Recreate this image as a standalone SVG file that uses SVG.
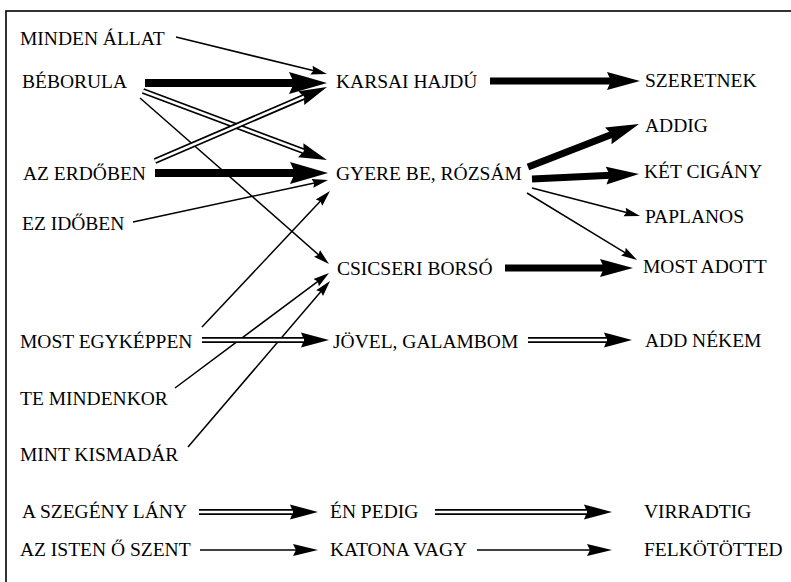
<svg xmlns="http://www.w3.org/2000/svg" width="791" height="582" viewBox="0 0 791 582">
<style>
.lbl{font-family:"Liberation Serif","Times New Roman",serif;font-size:19.5px;fill:#000}
.thin{stroke:#000;stroke-width:1.5;fill:none}
.thickL{stroke:#000;stroke-width:8;fill:none}
.thickR{stroke:#000;stroke-width:7;fill:none}
.dblB{stroke:#000;stroke-width:6;fill:none}
.dblW{stroke:#fff;stroke-width:2.6;fill:none}
</style>
<defs>
<marker id="mThin" markerUnits="userSpaceOnUse" markerWidth="18" markerHeight="12" viewBox="0 -6 18 12" refX="8" refY="0" orient="auto"><path d="M0,-4.5 L16,0 L0,4.5 L2,0 Z" fill="#000"/></marker>
<marker id="mThinB" markerUnits="userSpaceOnUse" markerWidth="27" markerHeight="14" viewBox="0 -7 27 14" refX="13" refY="0" orient="auto"><path d="M0,-6 L25,0 L0,6 L3,0 Z" fill="#000"/></marker>
<marker id="mThickL" markerUnits="userSpaceOnUse" markerWidth="40" markerHeight="26" viewBox="0 -13 40 26" refX="6" refY="0" orient="auto"><path d="M0,-11 L38,0 L0,11 L5,0 Z" fill="#000"/></marker>
<marker id="mThickR" markerUnits="userSpaceOnUse" markerWidth="35" markerHeight="22" viewBox="0 -11 35 22" refX="5" refY="0" orient="auto"><path d="M0,-9 L33,0 L0,9 L4,0 Z" fill="#000"/></marker>
<marker id="mDbl" markerUnits="userSpaceOnUse" markerWidth="31" markerHeight="18" viewBox="0 -9 31 18" refX="6" refY="0" orient="auto"><path d="M0,-7.5 L28,0 L0,7.5 L3,0 Z" fill="#000"/></marker>
</defs>
<rect x="6" y="11" width="800" height="600" fill="none" stroke="#000" stroke-width="1.6"/>
<g id="connectors">
<path class="thin" d="M176,37 L319.2,72.1" marker-end="url(#mThin)"/>
<path class="thickL" d="M145,83 L295,83" marker-end="url(#mThickL)"/>
<path class="dblB" d="M143,91 L306.4,152.3" marker-end="url(#mDbl)"/>
<path class="dblW" d="M143,91 L303.6,151.2"/>
<path class="thin" d="M140,98 L323,258.7" marker-end="url(#mThin)"/>
<path class="dblB" d="M155,161 L306.8,95.7" marker-end="url(#mDbl)"/>
<path class="dblW" d="M155,161 L304,96.9"/>
<path class="thickL" d="M155,173 L296,173" marker-end="url(#mThickL)"/>
<path class="thin" d="M133,222 L320.2,181.7" marker-end="url(#mThin)"/>
<path class="thin" d="M202,327 L324.5,196.8" marker-end="url(#mThin)"/>
<path class="thin" d="M175,388 L322.6,277.8" marker-end="url(#mThin)"/>
<path class="thin" d="M188,447 L324.8,287.1" marker-end="url(#mThin)"/>
<path class="dblB" d="M202,340 L307,340" marker-end="url(#mDbl)"/>
<path class="dblW" d="M202,340 L304,340"/>
<path class="thickR" d="M490,81 L612,81" marker-end="url(#mThickR)"/>
<path class="thickR" d="M528,167 L612.9,134.1" marker-end="url(#mThickR)"/>
<path class="thickR" d="M532,179 L611,175.3" marker-end="url(#mThickR)"/>
<path class="thin" d="M532,188 L632.3,214" marker-end="url(#mThin)"/>
<path class="thin" d="M527,193 L630.2,255.8" marker-end="url(#mThin)"/>
<path class="thickR" d="M505,268 L605,268" marker-end="url(#mThickR)"/>
<path class="dblB" d="M528,340 L610,340" marker-end="url(#mDbl)"/>
<path class="dblW" d="M528,340 L607,340"/>
<path class="dblB" d="M199,512 L296,512" marker-end="url(#mDbl)"/>
<path class="dblW" d="M199,512 L293,512"/>
<path class="dblB" d="M435,512 L590,512" marker-end="url(#mDbl)"/>
<path class="dblW" d="M435,512 L587,512"/>
<path class="thin" d="M200,550 L306,550" marker-end="url(#mThinB)"/>
<path class="thin" d="M477,550 L600,550" marker-end="url(#mThinB)"/>
</g>
<g id="n-minden-allat"><text class="lbl" x="20" y="45">MINDEN ÁLLAT</text></g>
<g id="n-beborula"><text class="lbl" x="22" y="88">BÉBORULA</text></g>
<g id="n-az-erdoben"><text class="lbl" x="23" y="180">AZ ERDŐBEN</text></g>
<g id="n-ez-idoben"><text class="lbl" x="22" y="230">EZ IDŐBEN</text></g>
<g id="n-most-egykeppen"><text class="lbl" x="20" y="348">MOST EGYKÉPPEN</text></g>
<g id="n-te-mindenkor"><text class="lbl" x="20" y="405">TE MINDENKOR</text></g>
<g id="n-mint-kismadar"><text class="lbl" x="20" y="461">MINT KISMADÁR</text></g>
<g id="n-a-szegeny-lany"><text class="lbl" x="22" y="518">A SZEGÉNY LÁNY</text></g>
<g id="n-az-isten"><text class="lbl" x="20" y="556">AZ ISTEN Ő SZENT</text></g>
<g id="n-karsai-hajdu"><text class="lbl" x="336" y="88">KARSAI HAJDÚ</text></g>
<g id="n-gyere-be"><text class="lbl" x="336" y="180">GYERE BE, RÓZSÁM</text></g>
<g id="n-csicseri-borso"><text class="lbl" x="337" y="275">CSICSERI BORSÓ</text></g>
<g id="n-jovel"><text class="lbl" x="333" y="348">JÖVEL, GALAMBOM</text></g>
<g id="n-en-pedig"><text class="lbl" x="330" y="518">ÉN PEDIG</text></g>
<g id="n-katona-vagy"><text class="lbl" x="330" y="556">KATONA VAGY</text></g>
<g id="n-szeretnek"><text class="lbl" x="645" y="87">SZERETNEK</text></g>
<g id="n-addig"><text class="lbl" x="645" y="132">ADDIG</text></g>
<g id="n-ket-cigany"><text class="lbl" x="644" y="178">KÉT CIGÁNY</text></g>
<g id="n-paplanos"><text class="lbl" x="645" y="223">PAPLANOS</text></g>
<g id="n-most-adott"><text class="lbl" x="643" y="273">MOST ADOTT</text></g>
<g id="n-add-nekem"><text class="lbl" x="645" y="347">ADD NÉKEM</text></g>
<g id="n-virradtig"><text class="lbl" x="644" y="518">VIRRADTIG</text></g>
<g id="n-felkototted"><text class="lbl" x="644" y="556">FELKÖTÖTTED</text></g>
</svg>
